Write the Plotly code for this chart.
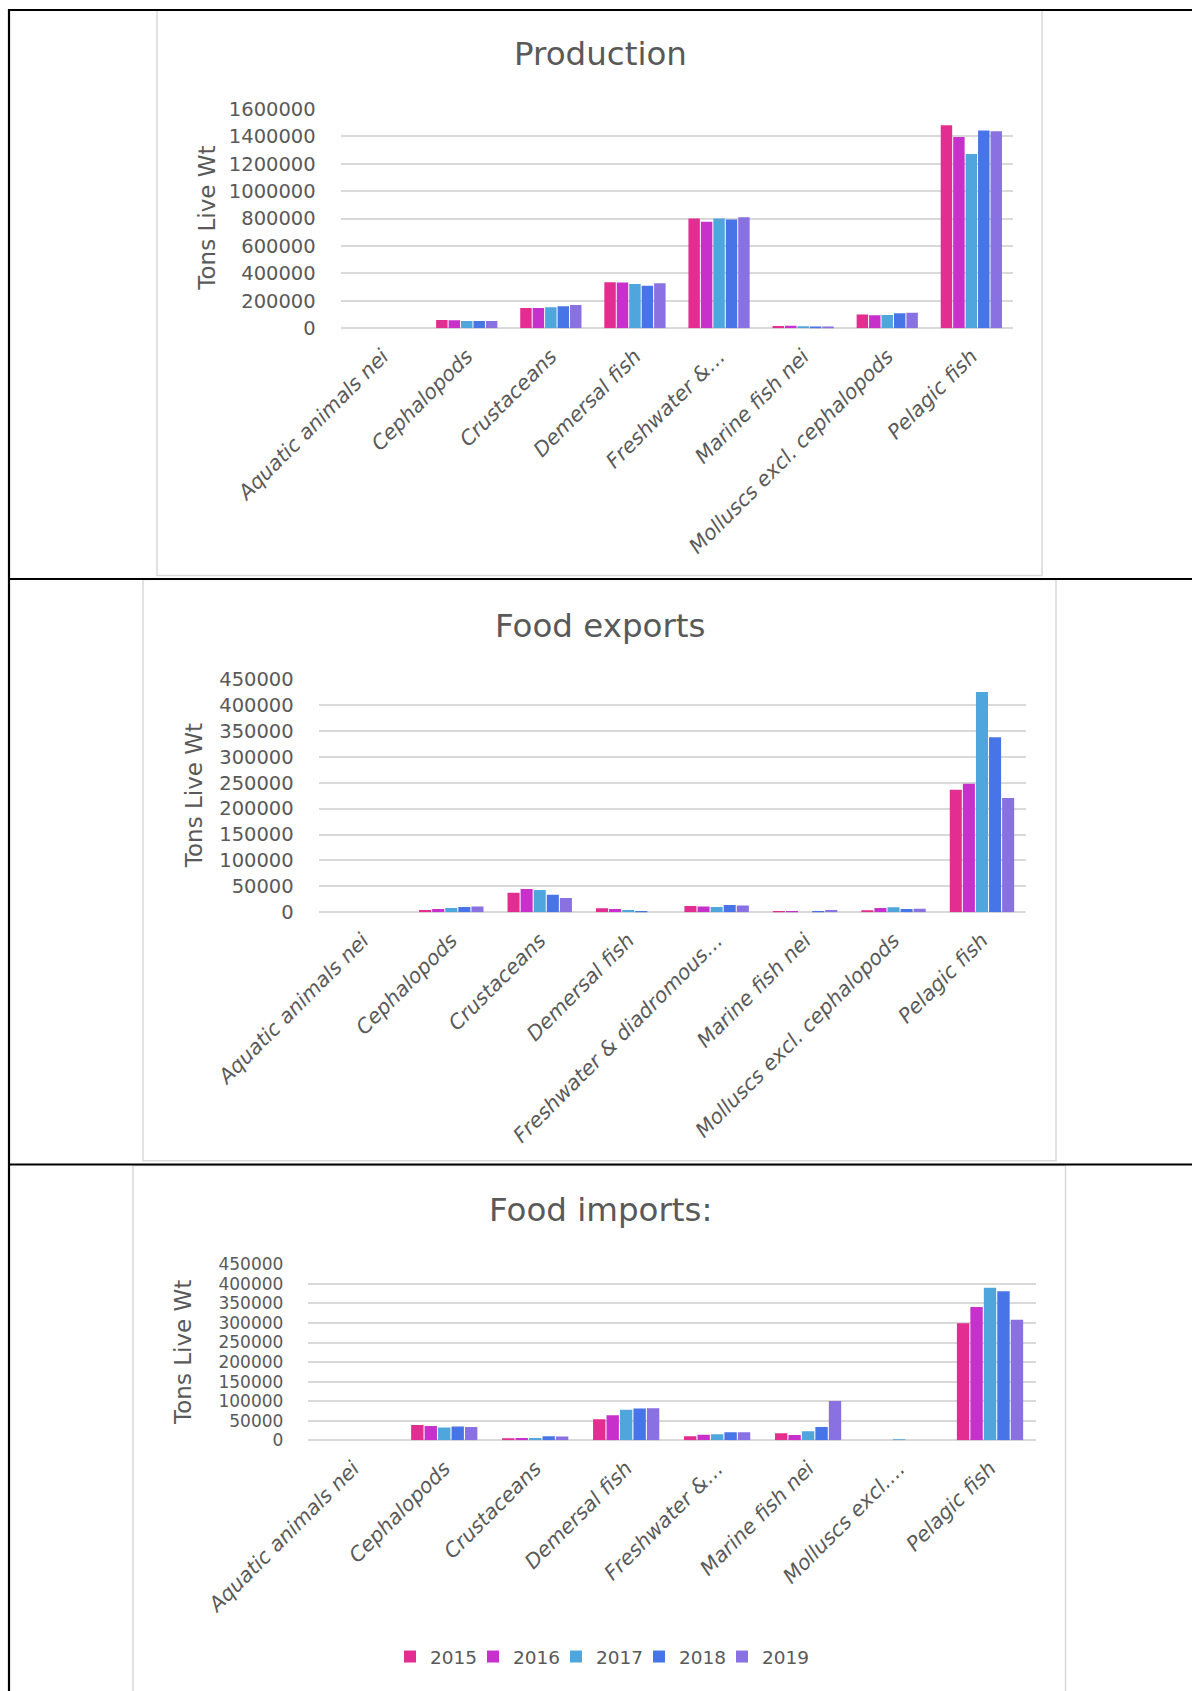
import plotly.graph_objects as go

W, H = 1192, 1691

categories = ["Aquatic animals nei", "Cephalopods", "Crustaceans", "Demersal fish",
              "Freshwater & diadromous fish", "Marine fish nei",
              "Molluscs excl. cephalopods", "Pelagic fish"]
years = ["2015", "2016", "2017", "2018", "2019"]
colors = ["#E32D91", "#C830CC", "#4EA6DC", "#4775E7", "#8971E1"]

# Production (tons live weight)
prod_2015 = [0, 60000, 148000, 336000, 802000, 17000, 100000, 1481000]
prod_2016 = [0, 59000, 148000, 335000, 778000, 19000, 95000, 1396000]
prod_2017 = [0, 54000, 153000, 323000, 802000, 15000, 97000, 1272000]
prod_2018 = [0, 53000, 160000, 311000, 793000, 14000, 109000, 1444000]
prod_2019 = [0, 53000, 170000, 328000, 810000, 14000, 114000, 1437000]

# Food exports
exp_2015 = [0, 4500, 37900, 7700, 12200, 600, 3900, 236600]
exp_2016 = [0, 6400, 45000, 6400, 11000, 2600, 8400, 248000]
exp_2017 = [0, 8400, 43000, 4500, 10300, 0, 9600, 425000]
exp_2018 = [0, 10300, 34000, 2600, 14100, 2000, 6400, 337500]
exp_2019 = [0, 11000, 27600, 0, 12900, 4500, 7000, 220500]

# Food imports
imp_2015 = [0, 39200, 3400, 53700, 10200, 17900, 0, 299000]
imp_2016 = [0, 36300, 6000, 64000, 14500, 13600, 0, 341000]
imp_2017 = [0, 33000, 6000, 78400, 15300, 23000, 2500, 390000]
imp_2018 = [0, 35500, 10200, 81000, 20500, 34000, 0, 381000]
imp_2019 = [0, 34000, 9400, 81800, 20500, 100500, 0, 308500]

labels_prod = ["Aquatic animals nei", "Cephalopods", "Crustaceans", "Demersal fish",
               "Freshwater &…", "Marine fish nei", "Molluscs excl. cephalopods", "Pelagic fish"]
labels_exp = ["Aquatic animals nei", "Cephalopods", "Crustaceans", "Demersal fish",
              "Freshwater & diadromous…", "Marine fish nei", "Molluscs excl. cephalopods", "Pelagic fish"]
labels_imp = ["Aquatic animals nei", "Cephalopods", "Crustaceans", "Demersal fish",
              "Freshwater &…", "Marine fish nei", "Molluscs excl.…", "Pelagic fish"]

titles = ["Production", "Food exports", "Food imports:"]
y_title = "Tons Live Wt"

panels = [
    dict(series=[prod_2015, prod_2016, prod_2017, prod_2018, prod_2019], labels=labels_prod,
         ymax=1600000, dtick=200000, px_x=(340.6, 1013.4), px_y=(109, 328.3),
         title_y=54, ytitle_x=207, box=(157, 10, 1042, 575.5), tick_size=19.5),
    dict(series=[exp_2015, exp_2016, exp_2017, exp_2018, exp_2019], labels=labels_exp,
         ymax=450000, dtick=50000, px_x=(318.6, 1026.2), px_y=(679, 912.3),
         title_y=625.5, ytitle_x=193.5, box=(143, 579.5, 1056, 1160.7), tick_size=19.5),
    dict(series=[imp_2015, imp_2016, imp_2017, imp_2018, imp_2019], labels=labels_imp,
         ymax=450000, dtick=50000, px_x=(307.8, 1035.5), px_y=(1264.3, 1440.3),
         title_y=1210, ytitle_x=183.6, box=(133, 1165.5, 1065.5, 1695), tick_size=17),
]

def fx(p):
    return p / W

def fy(p):
    return 1 - p / H

FONT = "DejaVu Sans"
GREY = "#595959"

fig = go.Figure()
annotations = []
shapes = []
layout_axes = {}

for i, pan in enumerate(panels):
    n = "" if i == 0 else str(i + 1)
    for j, yr in enumerate(years):
        fig.add_trace(go.Bar(
            x=categories, y=pan["series"][j], name=yr,
            marker=dict(color=colors[j], line=dict(width=0)),
            xaxis="x" + n, yaxis="y" + n,
            legendgroup=yr, showlegend=(i == 2),
        ))
    layout_axes["xaxis" + n] = dict(
        domain=[fx(pan["px_x"][0]), fx(pan["px_x"][1])],
        anchor="y" + n, type="category", automargin=False,
        categoryorder="array", categoryarray=categories,
        tickmode="array", tickvals=categories, ticktext=pan["labels"],
        tickangle=-45, ticks="outside", ticklen=7, tickcolor="rgba(0,0,0,0)",
        tickfont=dict(family=FONT, size=20.5, color=GREY, style="italic"),
        showgrid=False, showline=False, zeroline=False, fixedrange=True,
    )
    layout_axes["yaxis" + n] = dict(
        domain=[fy(pan["px_y"][1]), fy(pan["px_y"][0])],
        anchor="x" + n, range=[0, pan["ymax"]], dtick=pan["dtick"], tick0=0,
        automargin=False,
        tickformat="d", ticks="outside", ticklen=20, tickcolor="rgba(0,0,0,0)",
        tickfont=dict(family=FONT, size=pan["tick_size"], color=GREY),
        showgrid=True, gridcolor="#D9D9D9", gridwidth=1.8,
        zeroline=True, zerolinecolor="#D9D9D9", zerolinewidth=1.8,
        showline=False, fixedrange=True,
    )
    annotations.append(dict(
        text=titles[i], x=fx(600), y=fy(pan["title_y"]), xref="paper", yref="paper",
        xanchor="center", yanchor="middle", showarrow=False,
        font=dict(family=FONT, size=32.5, color=GREY),
    ))
    annotations.append(dict(
        text=y_title, x=fx(pan["ytitle_x"]), y=fy((pan["px_y"][0] + pan["px_y"][1]) / 2),
        xref="paper", yref="paper", xanchor="center", yanchor="middle",
        textangle=-90, showarrow=False,
        font=dict(family=FONT, size=23, color=GREY),
    ))
    x0, y0, x1, y1 = pan["box"]
    shapes.append(dict(type="rect", xref="paper", yref="paper",
                       x0=fx(x0), x1=fx(x1), y0=fy(y1), y1=fy(y0),
                       line=dict(color="#D9D9D9", width=1.5), layer="below"))

# invisible spacer legend entry so the last label is not clipped
fig.add_trace(go.Scatter(x=[None], y=[None], mode="markers", name=" ",
                         marker=dict(color="rgba(0,0,0,0)", size=1),
                         xaxis="x3", yaxis="y3", showlegend=True, hoverinfo="skip"))

# table lines (black)
for yy in [10, 579, 1164.5]:
    shapes.append(dict(type="line", xref="paper", yref="paper",
                       x0=fx(8), x1=1, y0=fy(yy), y1=fy(yy),
                       line=dict(color="black", width=2.2)))
shapes.append(dict(type="line", xref="paper", yref="paper",
                   x0=fx(9), x1=fx(9), y0=fy(9), y1=0,
                   line=dict(color="black", width=2.2)))

fig.update_layout(
    width=W, height=H, margin=dict(l=0, r=0, t=0, b=0, pad=0, autoexpand=False),
    paper_bgcolor="white", plot_bgcolor="white",
    barmode="group", bargap=0.26, bargroupgap=0.08,
    showlegend=True,
    legend=dict(orientation="h", x=fx(390), y=fy(1657), xanchor="left", yanchor="middle",
                font=dict(family=FONT, size=18.5, color=GREY), traceorder="normal",
                bgcolor="rgba(0,0,0,0)", entrywidth=38),
    annotations=annotations, shapes=shapes,
    **layout_axes,
)

fig.write_html("out.html")
